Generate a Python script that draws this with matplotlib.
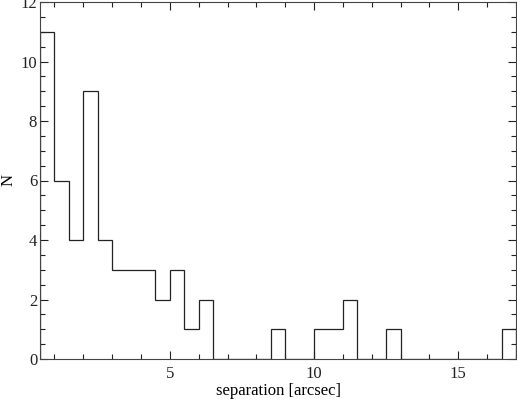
import matplotlib
matplotlib.use('Agg')
import matplotlib.pyplot as plt
from matplotlib.ticker import MultipleLocator

plt.rcParams['font.family'] = ['Liberation Serif', 'DejaVu Serif']

# histogram of separations, bin width 0.5 arcsec
edges = [0.5, 1.0, 1.5, 2.0, 2.5, 3.0, 3.5, 4.0, 4.5, 5.0, 5.5,
         6.0, 6.5, 7.0, 7.5, 8.0, 8.5, 9.0, 9.5, 10.0, 10.5, 11.0,
         11.5, 12.0, 12.5, 13.0, 13.5, 14.0, 14.5, 15.0, 15.5, 16.0,
         16.5, 17.0]
counts = [11, 6, 4, 9, 4, 3, 3, 3, 2, 3, 1,
          2, 0, 0, 0, 0, 1, 0, 0, 1, 1, 2,
          0, 0, 1, 0, 0, 0, 0, 0, 0, 0,
          1]

fig = plt.figure(figsize=(5.17, 3.99), dpi=100)
ax = fig.add_axes([40 / 517, 40 / 399, 476 / 517, 357 / 399])

ax.stairs(counts, edges, color='#222222', linewidth=0.9)

ax.set_xlim(0.5, 17.0)
ax.set_ylim(0, 12)
ax.xaxis.set_major_locator(MultipleLocator(5))
ax.xaxis.set_minor_locator(MultipleLocator(1))
ax.yaxis.set_major_locator(MultipleLocator(2))
ax.yaxis.set_minor_locator(MultipleLocator(0.5))
ax.tick_params(which='both', direction='in', top=True, right=True,
               labelsize=12, colors='#222222')
ax.tick_params(axis='y', pad=2)
ax.tick_params(axis='x', pad=5)
ax.tick_params(which='major', length=6, width=0.8)
ax.tick_params(which='minor', length=3.5, width=0.8)
for s in ax.spines.values():
    s.set_linewidth(0.8)
    s.set_color('#444444')

ax.set_xlabel('separation [arcsec]', fontsize=12, labelpad=1)
ax.set_ylabel('N', fontsize=12, labelpad=3)

fig.savefig('out.png', dpi=100)
